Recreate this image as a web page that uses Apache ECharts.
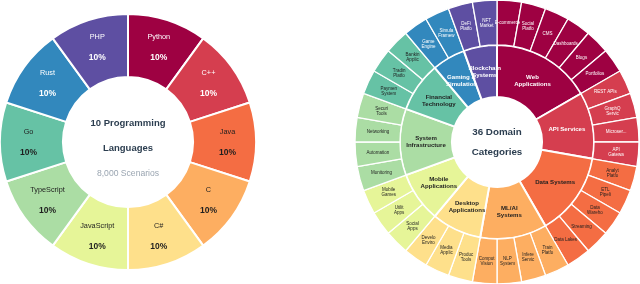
<!DOCTYPE html>
<html>
<head>
<meta charset="utf-8">
<script src="https://cdn.jsdelivr.net/npm/echarts@6/dist/echarts.min.js"></script>
<style>
html,body{margin:0;padding:0;background:#fff;}
#chart{width:640px;height:284px;}
</style>
</head>
<body>
<div id="chart"></div>
<script>
const languages = ['Python','C++','Java','C','C#','JavaScript','TypeScript','Go','Rust','PHP'];
const languageScenarios = [800,800,800,800,800,800,800,800,800,800];
const languageLightText = [true,true,false,false,false,false,false,false,true,true];

const palette = ['#9e0142','#d53e4f','#f46d43','#fdae61','#fee08b','#e6f598','#abdda4','#66c2a5','#3288bd','#5e4fa2'];

const domainCategories = ['Web\nApplications','API Services','Data Systems','ML/AI\nSystems','Desktop\nApplications','Mobile\nApplications','System\nInfrastructure','Financial\nTechnology','Gaming &\nSimulation','Blockchain\nSystems'];
const domainLightText = [true,true,false,false,false,false,false,false,true,true];
const webLeaves = ['E-commerce','Social\nPlatfo','CMS','Dashboards','Blogs','Portfolios'];
const apiLeaves = ['REST APIs','GraphQ\nServic','Microser...','API\nGatewa'];
const dataLeaves = ['Analyt\nPlatfo','ETL\nPipeli','Data\nWareho','Streaming','Data Lakes'];
const mlLeaves = ['Train\nPlatfo','Infere\nServic','NLP\nSystem','Comput\nVision'];
const desktopLeaves = ['Produc\nTools','Media\nApplic','Develo\nEnviro'];
const mobileLeaves = ['Social\nApps','Utilit\nApps','Mobile\nGames'];
const systemLeaves = ['Monitoring','Automation','Networking','Securi\nTools'];
const fintechLeaves = ['Paymen\nSystem','Tradin\nPlatfo','Bankin\nApplic'];
const gamingLeaves = ['Game\nEngine','Simula\nFramew'];
const blockchainLeaves = ['DeFi\nPlatfo','NFT\nMarket'];
const domainLeaves = [webLeaves,apiLeaves,dataLeaves,mlLeaves,desktopLeaves,mobileLeaves,systemLeaves,fintechLeaves,gamingLeaves,blockchainLeaves];
const leafValue = 1;

const FONT = '"Liberation Sans", Arial, sans-serif';
const DARK = '#1f1f1f';

const pieData = languages.map((n,i)=>({
  name:n, value:languageScenarios[i],
  itemStyle:{color:palette[i]},
  label:{rich:{
    n:{fontSize:7.3,color:languageLightText[i]?'#fff':DARK,fontFamily:FONT,lineHeight:21},
    p:{fontSize:8.5,fontWeight:'bold',color:languageLightText[i]?'#fff':DARK,fontFamily:FONT,lineHeight:21}
  }}
}));

const sunData = domainCategories.map((c,i)=>({
  name:c,
  itemStyle:{color:palette[i]},
  label:{color:domainLightText[i]?'#fff':DARK},
  children:domainLeaves[i].map(l=>({
    name:l, value:leafValue,
    itemStyle:{color:palette[i]},
    label:{color:domainLightText[i]?'#fff':DARK}
  }))
}));

const chart = echarts.init(document.getElementById('chart'),null,{renderer:'canvas'});
chart.setOption({
  animation:false,
  series:[
    {
      type:'pie',
      center:[128,142],
      radius:[65,128],
      startAngle:90,
      clockwise:true,
      avoidLabelOverlap:false,
      itemStyle:{borderColor:'#fff',borderWidth:2},
      label:{
        show:true,position:'inside',
        formatter:p=>'{n|'+p.name+'}\n{p|'+Math.round(p.percent)+'%}'
      },
      labelLine:{show:false},
      data:pieData
    },
    {
      type:'sunburst',
      center:[497,142],
      radius:[45,142],
      sort:null,
      nodeClick:false,
      startAngle:90,
      itemStyle:{borderColor:'#fff',borderWidth:1.2},
      label:{rotate:0,fontFamily:FONT},
      levels:[
        {},
        {r0:45,r:97,itemStyle:{borderWidth:2},label:{rotate:0,fontSize:6.1,fontWeight:'bold',lineHeight:7,fontFamily:FONT}},
        {r0:97,r:142,itemStyle:{borderWidth:1.3},label:{rotate:0,fontSize:4.5,lineHeight:5,fontFamily:FONT}}
      ],
      data:sunData
    }
  ],
  graphic:[
    {type:'text',style:{text:'10 Programming',x:128,y:123,align:'center',verticalAlign:'middle',fill:'#2c3e50',font:'bold 9.5px '+FONT}},
    {type:'text',style:{text:'Languages',x:128,y:148,align:'center',verticalAlign:'middle',fill:'#2c3e50',font:'bold 9.5px '+FONT}},
    {type:'text',style:{text:'8,000 Scenarios',x:128,y:174,align:'center',verticalAlign:'middle',fill:'#9aa5b1',font:'8.6px '+FONT}},
    {type:'text',style:{text:'36 Domain',x:497,y:132,align:'center',verticalAlign:'middle',fill:'#2c3e50',font:'bold 9.8px '+FONT}},
    {type:'text',style:{text:'Categories',x:497,y:152,align:'center',verticalAlign:'middle',fill:'#2c3e50',font:'bold 9.8px '+FONT}}
  ]
});
</script>
</body>
</html>
